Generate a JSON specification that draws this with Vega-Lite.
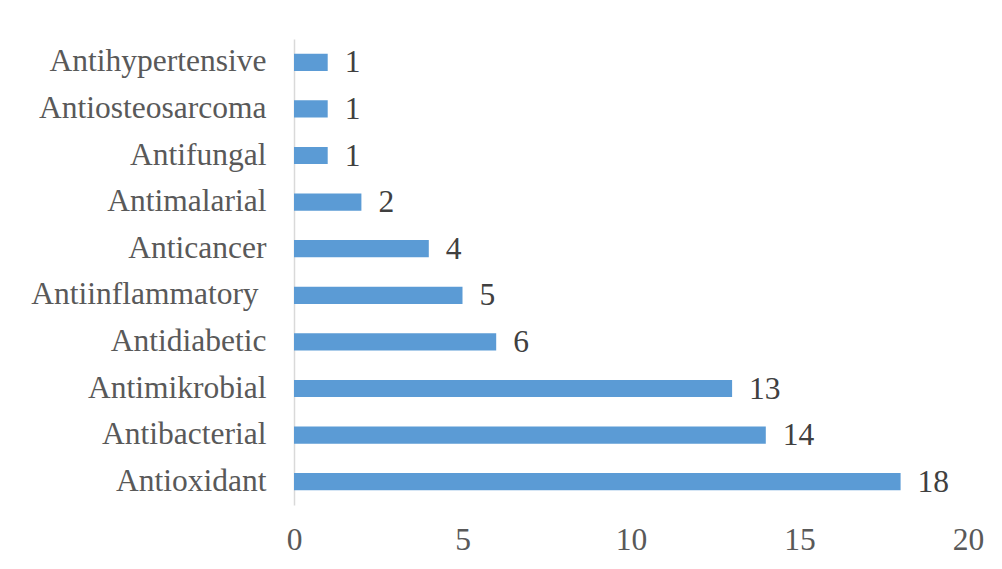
{
  "$schema": "https://vega.github.io/schema/vega-lite/v6.json",
  "autosize": {"type": "none"},
  "width": 674,
  "height": 466,
  "padding": {"left": 294, "top": 39, "right": 34, "bottom": 64},
  "background": "white",
  "config": {"view": {"stroke": null}, "font": "Liberation Serif"},
  "data": {"values": [
    {"activity": "Antihypertensive", "count": 1},
    {"activity": "Antiosteosarcoma", "count": 1},
    {"activity": "Antifungal", "count": 1},
    {"activity": "Antimalarial", "count": 2},
    {"activity": "Anticancer", "count": 4},
    {"activity": "Antiinflammatory\u00a0\u200b", "count": 5},
    {"activity": "Antidiabetic", "count": 6},
    {"activity": "Antimikrobial", "count": 13},
    {"activity": "Antibacterial", "count": 14},
    {"activity": "Antioxidant", "count": 18}
  ]},
  "encoding": {
    "y": {
      "field": "activity", "type": "nominal", "sort": null,
      "scale": {"paddingInner": 0.63, "paddingOuter": 0.315},
      "axis": {"title": null, "ticks": false, "domainColor": "#D9D9D9", "domainWidth": 1.5,
               "labelFont": "Liberation Serif", "labelFontSize": 31.5, "labelColor": "#595959",
               "labelPadding": 28, "labelLimit": 400}
    },
    "x": {
      "field": "count", "type": "quantitative",
      "scale": {"domain": [0, 20], "nice": false},
      "axis": {"title": null, "ticks": false, "domain": false, "grid": false, "values": [0, 5, 10, 15, 20],
               "labelFlush": false, "labelOverlap": false,
               "labelFont": "Liberation Serif", "labelFontSize": 31.5, "labelColor": "#595959",
               "labelPadding": 19}
    }
  },
  "layer": [
    {"mark": {"type": "bar", "color": "#5B9BD5"}},
    {"mark": {"type": "text", "align": "left", "baseline": "middle", "dx": 17, "dy": 1,
              "font": "Liberation Serif", "fontSize": 31.5, "color": "#404040"},
     "encoding": {"text": {"field": "count", "type": "quantitative"}}}
  ]
}
